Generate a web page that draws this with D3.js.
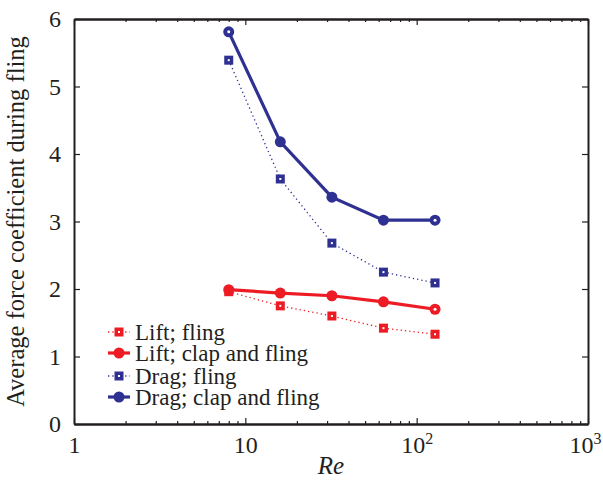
<!DOCTYPE html>
<html>
<head>
<meta charset="utf-8">
<script src="https://cdn.jsdelivr.net/npm/d3@7"></script>
<style>
  body { margin: 0; background: #fff; }
  svg text { font-family: "Liberation Serif", Tinos, Times, "DejaVu Serif", serif; fill: #231f20; }
</style>
</head>
<body>
<div id="chart"></div>
<script>
// data
const reValues = [8, 16, 32, 64, 128];
const liftFling = [1.96, 1.75, 1.60, 1.42, 1.33];
const liftClap = [1.99, 1.94, 1.90, 1.81, 1.70];
const dragFling = [5.39, 3.63, 2.68, 2.25, 2.09];
const dragClap = [5.81, 4.18, 3.36, 3.02, 3.02];
const xMajor = [1, 10, 100, 1000];
const yTicks = [0, 1, 2, 3, 4, 5, 6];
const legendNames = ["Lift; fling", "Lift; clap and fling", "Drag; fling", "Drag; clap and fling"];

const width = 603, height = 485;
const margin = {left: 74, right: 15, top: 19, bottom: 61};
const red = "#ed1c24", blue = "#2e3192", ink = "#231f20";
const serif = "'Liberation Serif', Tinos, Times, 'DejaVu Serif', serif";

const svg = d3.select("#chart").append("svg")
    .attr("width", width).attr("height", height)
    .attr("font-family", serif);

const x = d3.scaleLog().domain([1, 1000]).range([margin.left, width - margin.right]);
const y = d3.scaleLinear().domain([0, 6]).range([height - margin.bottom, margin.top]);

// minor log ticks
var xMinor = [];
for (let d = 1; d < 1000; d *= 10) {
    for (let k = 2; k <= 9; k++) xMinor.push(d * k);
}

function styleAxis(g) {
    g.attr("font-family", serif);
    g.select(".domain").attr("stroke", ink).attr("stroke-width", 2);
    g.selectAll(".tick line").attr("stroke", ink).attr("stroke-width", 1.2);
    g.selectAll("text").attr("fill", ink);
}

// bottom axis
const xAxis = svg.append("g")
    .attr("transform", "translate(0," + y(0) + ")")
    .call(d3.axisBottom(x).tickValues(xMajor).tickFormat(d3.format("d"))
        .tickSizeInner(-6).tickSizeOuter(0).tickPadding(12))
    .call(styleAxis);
xAxis.selectAll("text").attr("font-size", 24)
    .each(function(d) {
        const t = d3.select(this);
        if (d >= 100) {
            t.text("10");
            t.append("tspan").attr("dy", -9).attr("font-size", 16).text(Math.round(Math.log10(d)));
        }
    });
// nudge the 10^3 label so it stays inside the page
xAxis.selectAll("text").filter(d => d == 1000).attr("dx", -3);
svg.append("g")
    .attr("transform", "translate(0," + y(0) + ")")
    .call(d3.axisBottom(x).tickValues(xMinor).tickSizeInner(-3).tickSizeOuter(0).tickFormat(""))
    .call(styleAxis);

// top axis
svg.append("g")
    .attr("transform", "translate(0," + y(6) + ")")
    .call(d3.axisTop(x).tickValues(xMajor).tickSizeInner(-6).tickSizeOuter(0).tickFormat(""))
    .call(styleAxis);
svg.append("g")
    .attr("transform", "translate(0," + y(6) + ")")
    .call(d3.axisTop(x).tickValues(xMinor).tickSizeInner(-3).tickSizeOuter(0).tickFormat(""))
    .call(styleAxis);

// left axis
const yAxis = svg.append("g")
    .attr("transform", "translate(" + x(1) + ",0)")
    .call(d3.axisLeft(y).tickValues(yTicks).tickFormat(d3.format("d"))
        .tickSizeInner(-6).tickSizeOuter(0).tickPadding(13))
    .call(styleAxis);
yAxis.selectAll("text").attr("font-size", 24);

// right axis
svg.append("g")
    .attr("transform", "translate(" + x(1000) + ",0)")
    .call(d3.axisRight(y).tickValues(yTicks).tickSizeInner(-6).tickSizeOuter(0).tickFormat(""))
    .call(styleAxis);

// axis titles
svg.append("text")
    .attr("transform", "translate(24," + ((y(0) + y(6)) / 2) + ") rotate(-90)")
    .attr("text-anchor", "middle")
    .attr("font-size", 24.5)
    .text("Average force coefficient during fling");

svg.append("text")
    .attr("x", (x(1) + x(1000)) / 2)
    .attr("y", 474)
    .attr("text-anchor", "middle")
    .attr("font-size", 25)
    .attr("font-style", "italic")
    .text("Re");

const series = [
    {vals: liftFling, color: red, marker: "square", dotted: true},
    {vals: liftClap, color: red, marker: "circle", dotted: false},
    {vals: dragFling, color: blue, marker: "square", dotted: true},
    {vals: dragClap, color: blue, marker: "circle", dotted: false}
];

const line = d3.line().x(d => x(d[0])).y(d => y(d[1]));

series.forEach(function(s) {
    const pts = reValues.map((r, i) => [r, s.vals[i]]);
    const g = svg.append("g");
    g.append("path")
        .attr("d", line(pts))
        .attr("fill", "none")
        .attr("stroke", s.color)
        .attr("stroke-width", s.dotted ? 1.3 : 3.2)
        .attr("stroke-dasharray", s.dotted ? "1.3,3" : null);
    if (s.marker == "square") {
        g.selectAll("rect.m").data(pts).enter().append("rect")
            .attr("x", d => x(d[0]) - 4.5).attr("y", d => y(d[1]) - 4.5)
            .attr("width", 9).attr("height", 9)
            .attr("fill", s.color);
        g.selectAll("rect.c").data(pts).enter().append("rect")
            .attr("x", d => x(d[0]) - 1).attr("y", d => y(d[1]) - 1)
            .attr("width", 2).attr("height", 2)
            .attr("fill", "#fff");
    } else {
        g.selectAll("circle").data(pts).enter().append("circle")
            .attr("cx", d => x(d[0])).attr("cy", d => y(d[1]))
            .attr("r", 5.5)
            .attr("fill", s.color);
        // end points carry a small open centre in the original
        g.selectAll("circle.c").data(pts.filter((d, i) => i == pts.length - 1 || (i == 0 && s.color == blue)))
            .enter().append("circle")
            .attr("cx", d => x(d[0])).attr("cy", d => y(d[1]))
            .attr("r", 1.5)
            .attr("fill", "#fff");
    }
});

// legend
const legendY = [332, 353, 376, 397];
const legend = svg.append("g");
series.forEach(function(s, i) {
    const ly = legendY[i];
    legend.append("line")
        .attr("x1", 108).attr("x2", 130).attr("y1", ly).attr("y2", ly)
        .attr("stroke", s.color)
        .attr("stroke-width", s.dotted ? 1.3 : 3.2)
        .attr("stroke-dasharray", s.dotted ? "1.3,3" : null);
    if (s.marker == "square") {
        legend.append("rect").attr("x", 114.5).attr("y", ly - 4.5)
            .attr("width", 9).attr("height", 9).attr("fill", s.color);
        legend.append("rect").attr("x", 118).attr("y", ly - 1)
            .attr("width", 2).attr("height", 2).attr("fill", "#fff");
    } else {
        legend.append("circle").attr("cx", 119).attr("cy", ly).attr("r", 5.5).attr("fill", s.color);
    }
    legend.append("text")
        .attr("x", 135).attr("y", ly + 8)
        .attr("font-size", 23)
        .text(legendNames[i]);
});
</script>
</body>
</html>
